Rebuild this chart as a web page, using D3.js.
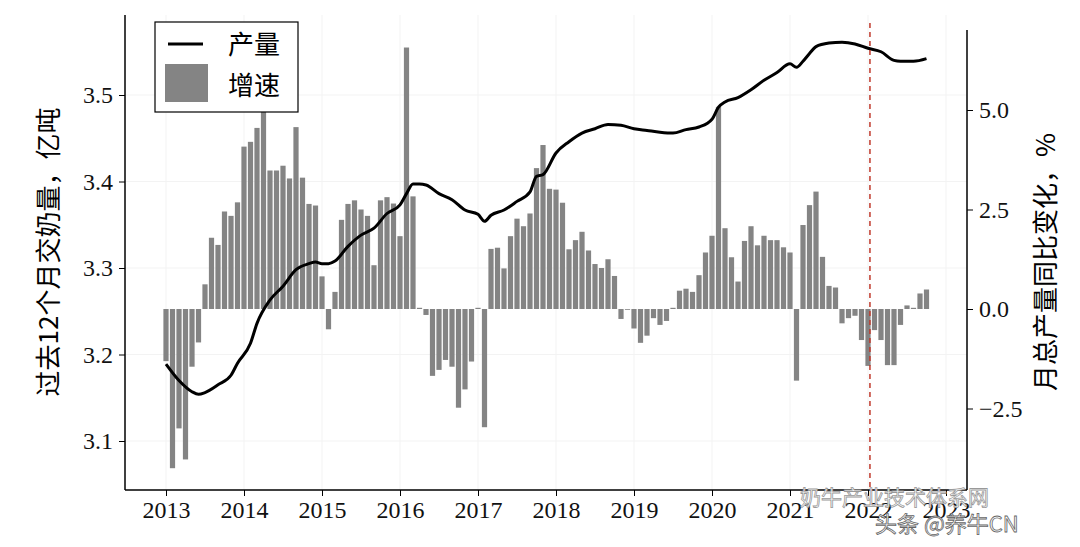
<!DOCTYPE html>
<html><head><meta charset="utf-8">
<script src="https://cdn.jsdelivr.net/npm/d3@7"></script>
<style>body{margin:0;background:#fff}</style>
</head><body>
<svg id="chart" width="1080" height="547"></svg>
<script>
// monthly growth, % (Jan 2013 ..)
var growth = [-1.31,-4.0,-3.0,-3.78,-1.45,-0.84,0.62,1.79,1.61,2.45,2.34,2.68,
  4.08,4.2,4.55,4.95,3.48,3.48,3.6,3.28,4.57,3.3,2.64,2.6,
  0.82,-0.51,0.43,2.24,2.64,2.73,2.5,2.34,1.1,2.73,2.81,2.65,
  1.83,6.57,2.83,0.03,-0.15,-1.68,-1.53,-1.28,-1.45,-2.48,-2.02,-1.32,
  0.03,-2.97,1.51,1.54,1.02,1.83,2.27,2.08,2.4,3.54,4.12,3.02,
  3.0,2.67,1.5,1.73,1.94,1.47,1.13,1.03,1.25,0.83,-0.25,0.0,
  -0.49,-0.85,-0.67,-0.23,-0.4,-0.3,0.03,0.46,0.51,0.43,0.85,1.42,
  1.84,5.08,2.03,1.3,0.69,1.71,2.08,1.6,1.84,1.73,1.73,1.55,
  1.42,-1.8,2.11,2.61,2.95,1.31,0.58,0.54,-0.36,-0.23,-0.17,-0.78,
  -1.43,-0.53,-0.78,-1.41,-1.41,-0.4,0.09,0.03,0.39,0.49];
// 12-month output, 亿吨: [month index, value]
var output = [[0,3.189],[2,3.170],[4,3.157],[5,3.154],[6,3.156],[8,3.165],[10,3.176],[11,3.19],
  [13,3.213],[14,3.236],[16,3.263],[18,3.279],[20,3.298],[22,3.305],[23,3.307],[24,3.305],[25,3.305],
  [26,3.308],[28,3.325],[30,3.338],[32,3.346],[34,3.363],[36,3.373],[37,3.386],[38,3.397],[39,3.397],
  [40,3.396],[42,3.386],[44,3.379],[46,3.367],[48,3.362],[49,3.354],[50,3.361],[52,3.367],[54,3.377],
  [56,3.388],[57,3.406],[58,3.408],[60,3.433],[62,3.446],[64,3.456],[66,3.461],[68,3.466],[70,3.465],
  [72,3.461],[74,3.459],[76,3.457],[78,3.456],[80,3.460],[82,3.463],[84,3.472],[85,3.486],[86,3.492],
  [88,3.497],[90,3.506],[92,3.517],[94,3.526],[96,3.536],[97,3.532],[98,3.539],[99,3.548],[100,3.556],
  [102,3.560],[104,3.561],[106,3.559],[108,3.554],[110,3.550],[112,3.540],[113,3.539],[115,3.539],[117,3.542]];
var years = [2013,2014,2015,2016,2017,2018,2019,2020,2021,2022,2023];
var leftTicks = [3.1,3.2,3.3,3.4,3.5];
var rightTicks = [-2.5,0,2.5,5];
var markMonth = 108.3;

var svg = d3.select('#chart');
var L = 125, R = 967, T = 15, B = 490;
var x = d3.scaleLinear().domain([0, 12]).range([166, 244]);
var yL = d3.scaleLinear().domain([3.1, 3.5]).range([441, 95]);
var yR = d3.scaleLinear().domain([0, 5]).range([309, 110]);
var serif = '"Liberation Serif","DejaVu Serif",serif';
var cjk = '"Noto Sans CJK SC",sans-serif';

// faint grid
svg.append('g').selectAll('line').data(years).enter().append('line')
  .attr('x1', function(d){return x((d-2013)*12);}).attr('x2', function(d){return x((d-2013)*12);})
  .attr('y1', T).attr('y2', B).attr('stroke', '#f3f3f3');
svg.append('g').selectAll('line').data(leftTicks).enter().append('line')
  .attr('x1', L).attr('x2', R).attr('y1', function(d){return yL(d);}).attr('y2', function(d){return yL(d);})
  .attr('stroke', '#f3f3f3');

var bw = 5.2;
svg.append('g').selectAll('rect').data(growth).enter().append('rect')
  .attr('x', function(d,i){return x(i) - bw/2;})
  .attr('width', bw)
  .attr('y', function(d){return yR(Math.max(0,d));})
  .attr('height', function(d){return Math.max(0.8, Math.abs(yR(d)-yR(0)));})
  .attr('fill', '#848484');

svg.append('path').datum(output)
  .attr('d', d3.line().x(function(d){return x(d[0]);}).y(function(d){return yL(d[1]);}).curve(d3.curveMonotoneX))
  .attr('fill', 'none').attr('stroke', '#000').attr('stroke-width', 3);

svg.append('line').attr('x1', x(markMonth)).attr('x2', x(markMonth)).attr('y1', T+8).attr('y2', B)
  .attr('stroke', '#c0392b').attr('stroke-width', 1.5).attr('stroke-dasharray', '5,4');

// axes
var ax = svg.append('g').attr('transform', 'translate(0,' + B + ')')
  .call(d3.axisBottom(x).tickValues(years.map(function(d){return (d-2013)*12;}))
    .tickFormat(function(d){return 2013 + d/12;}).tickSize(6).tickPadding(5));
ax.select('.domain').attr('d', 'M' + L + ',0H' + R);
var ayl = svg.append('g').attr('transform', 'translate(' + L + ',0)')
  .call(d3.axisLeft(yL).tickValues(leftTicks).tickFormat(d3.format('.1f')).tickSize(6).tickPadding(6));
ayl.select('.domain').attr('d', 'M0,' + T + 'V' + B);
var ayr = svg.append('g').attr('transform', 'translate(' + R + ',0)')
  .call(d3.axisRight(yR).tickValues(rightTicks).tickFormat(d3.format('.1f')).tickSize(6).tickPadding(6));
ayr.select('.domain').attr('d', 'M0,' + (T+15) + 'V' + B);
svg.selectAll('.tick text').attr('font-family', serif).attr('font-size', 24).attr('fill', '#111');
svg.selectAll('.domain').attr('stroke-width', 1.5);

svg.append('text').attr('transform', 'translate(58,252) rotate(-90)')
  .attr('text-anchor', 'middle').attr('font-family', cjk).attr('font-size', 26)
  .text('过去12个月交奶量，亿吨');
svg.append('text').attr('transform', 'translate(1055,262) rotate(-90)')
  .attr('text-anchor', 'middle').attr('font-family', cjk).attr('font-size', 26)
  .text('月总产量同比变化，%');

// legend
var lg = svg.append('g');
lg.append('rect').attr('x', 155).attr('y', 22).attr('width', 143).attr('height', 90)
  .attr('fill', '#fff').attr('stroke', '#000').attr('stroke-width', 1.2);
lg.append('line').attr('x1', 168).attr('x2', 203).attr('y1', 44).attr('y2', 44).attr('stroke', '#000').attr('stroke-width', 3);
lg.append('rect').attr('x', 165).attr('y', 64).attr('width', 43).attr('height', 38).attr('fill', '#848484');
lg.append('text').attr('x', 228).attr('y', 54).attr('font-family', cjk).attr('font-size', 26).text('产量');
lg.append('text').attr('x', 228).attr('y', 95).attr('font-family', cjk).attr('font-size', 26).text('增速');

// watermark
svg.append('text').attr('x', 800).attr('y', 505).attr('font-family', cjk).attr('font-size', 21)
  .attr('fill', '#fff').attr('stroke', '#999').attr('stroke-width', 0.8).text('奶牛产业技术体系网');
svg.append('text').attr('x', 875).attr('y', 532).attr('font-family', cjk).attr('font-size', 22)
  .attr('fill', '#fff').attr('stroke', '#666').attr('stroke-width', 0.8).text('头条 @养牛CN');
</script>
</body></html>
